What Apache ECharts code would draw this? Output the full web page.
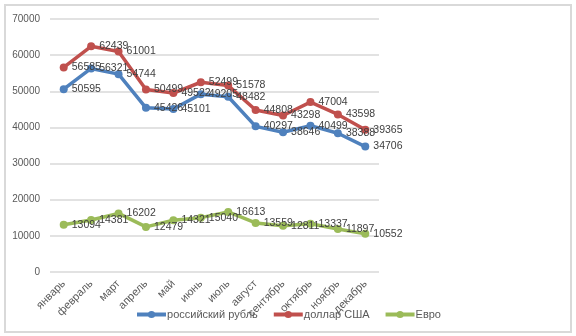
<!DOCTYPE html>
<html><head><meta charset="utf-8">
<script src="https://cdn.jsdelivr.net/npm/echarts@6/dist/echarts.min.js"></script>
<style>html,body{margin:0;padding:0;background:#fff}#c{width:576px;height:336px}</style>
</head><body><div id="c"></div>
<script>
var months = ['январь','февраль','март','апрель','май','июнь','июль','август','сентябрь','октябрь','ноябрь','декабрь'];
var rub = [50595,56321,54744,45426,45101,49205,48482,40297,38646,40499,38388,34706];
var usd = [56585,62439,61001,50499,49522,52499,51578,44808,43298,47004,43598,39365];
var eur = [13094,14381,16202,12479,14321,15040,16613,13559,12811,13337,11897,10552];
var names = ['российский рубль','доллар США','Евро'];
var colors = ['#4F81BD','#C0504D','#9BBB59'];
var yTicks = {min:0, max:70000, interval:10000};

var font = 'Liberation Sans, Arial, sans-serif';
function mk(name, data, color){
  return {
    name:name, type:'line', data:data, color:color,
    symbol:'circle', symbolSize:8,
    lineStyle:{width:3.5, color:color},
    itemStyle:{color:color},
    label:{show:true, position:'right', distance:4, color:'#404040', fontSize:10.5, fontFamily:font},
    emphasis:{disabled:true}, animation:false
  };
}
var chart = echarts.init(document.getElementById('c'), null, {renderer:'canvas'});
chart.setOption({
  animation:false,
  graphic:[{type:'rect', shape:{x:5,y:5,width:566,height:327}, style:{fill:'none', stroke:'#D9D9D9', lineWidth:2}, silent:true}],
  grid:{left:50, right:197, top:19, bottom:64, containLabel:false},
  legend:{data:names, left:'center', top:304, itemWidth:29, itemHeight:9, itemGap:14,
    lineStyle:{width:4},
    textStyle:{color:'#595959', fontSize:11, fontFamily:font, padding:[0,0,0,-4]}},
  xAxis:{type:'category', data:months, boundaryGap:true,
    axisLine:{show:false}, axisTick:{show:false},
    axisLabel:{rotate:45, color:'#595959', fontSize:11, fontFamily:font, margin:10, interval:0}},
  yAxis:{type:'value', min:yTicks.min, max:yTicks.max, interval:yTicks.interval,
    axisLine:{show:false}, axisTick:{show:false},
    axisLabel:{color:'#595959', fontSize:10, fontFamily:font, margin:10, formatter:function(v){return String(v);}},
    splitLine:{lineStyle:{color:'#D9D9D9', width:1.5}}},
  series:[mk(names[0],rub,colors[0]), mk(names[1],usd,colors[1]), mk(names[2],eur,colors[2])]
});
</script></body></html>
